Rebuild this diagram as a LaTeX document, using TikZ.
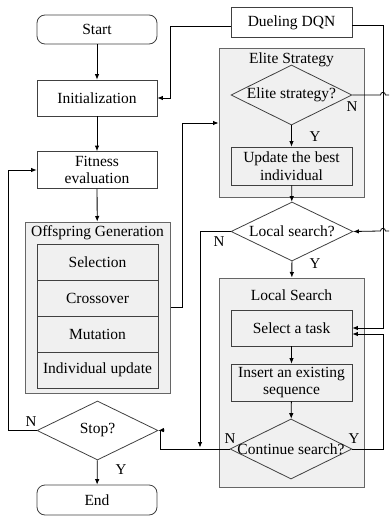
\documentclass[tikz,border=0pt]{standalone}
\usepackage{fontspec}
\setmainfont{Liberation Serif}
\usetikzlibrary{shapes.geometric,arrows.meta,calc}
\begin{document}
\begin{tikzpicture}[x=1pt,y=-1pt,
  every node/.style={font=\fontsize{15.5}{17.5}\selectfont, inner sep=0pt},
  boxn/.style={draw=black!75, line width=0.8pt, rectangle, minimum width=120pt, align=center},
  termn/.style={draw=black!75, line width=0.8pt, rectangle, rounded corners=8pt, minimum width=120pt, minimum height=29pt},
  grayn/.style={boxn, fill=black!6},
  groupn/.style={draw=black!60, line width=1pt, fill=black!6, minimum width=145pt},
  decn/.style={draw=black!75, line width=0.8pt, diamond, minimum width=121pt, minimum height=60pt},
  arr/.style={draw=black, line width=0.8pt, -{Latex[length=5.5pt,width=4.5pt]}},
  ln/.style={draw=black, line width=0.8pt},
  lab/.style={font=\fontsize{15}{17}\selectfont}]
\useasboundingbox (0,0) rectangle (389,516);

% left column
\node[termn] (start) at (97,29.5) {Start};
\node[boxn, minimum height=36pt] (init) at (97,98) {Initialization};
\node[boxn, minimum height=37pt] (fit) at (97,170) {Fitness\\evaluation};
\node[groupn, minimum height=171pt] (off) at (97.5,307.5) {};
\node (offt) at (97.5,233) {Offspring Generation};
\node[grayn, minimum width=121pt, minimum height=36pt] (sel) at (97.5,262) {Selection};
\node[grayn, minimum width=121pt, minimum height=36pt] (cro) at (97.5,298) {Crossover};
\node[grayn, minimum width=121pt, minimum height=36pt] (mut) at (97.5,334) {Mutation};
\node[grayn, minimum width=121pt, minimum height=36pt] (ind) at (97.5,370) {Individual update};
\node[decn, minimum height=59pt] (stop) at (97.5,430.5) {\makebox[0pt]{Stop?}};
\node[termn, minimum height=30pt] (end) at (97,500) {End};

% right column
\node[boxn, minimum width=121pt, minimum height=30pt] (dqn) at (291.5,22.5) {Dueling DQN};
\node[groupn, minimum height=148pt] (elbox) at (291.5,123) {};
\node (elt) at (291.5,60) {Elite Strategy};
\node[decn] (eld) at (291.5,95) {\makebox[0pt]{Elite strategy?}};
\node[grayn, minimum width=121pt, minimum height=38pt] (upd) at (291.5,166) {Update the best\\individual};
\node[decn, minimum width=122pt, minimum height=59pt] (lsd) at (292,231.5) {\makebox[0pt]{Local search?}};
\node[groupn, minimum height=209pt] (lsbox) at (291.5,382.5) {};
\node (lst) at (291.5,295) {Local Search};
\node[grayn, minimum width=121pt, minimum height=36pt] (seltask) at (291.5,328) {Select a task};
\node[grayn, minimum width=121pt, minimum height=37pt] (ins) at (291.5,382.5) {Insert an existing\\sequence};
\node[decn, minimum width=122pt] (cont) at (291,449) {\makebox[0pt]{Continue search?}};

% labels
\node[lab] (ly1) at (121,470) {Y};
\node[lab] (ln1) at (31,422) {N};
\node[lab] (ly2) at (315,137) {Y};
\node[lab] (ln2) at (352,107) {N};
\node[lab] (ly3) at (315,264) {Y};
\node[lab] (ln3) at (219,242) {N};
\node[lab] (ln4) at (230,439) {N};
\node[lab] (ly4) at (354,439) {Y};

% connectors left
\draw[arr] (start) -- (init);
\draw[arr] (init) -- (fit);
\draw[arr] (fit) -- (off);
\draw[arr] (stop) -- (end);
\draw[arr] (stop.west) -- ++(-28,0) |- (fit.west);
\draw[arr] (off.east |- 0,307) -- ++(12,0) |- (elbox.west);
\draw[arr] (dqn.west |- 0,26) -| (170,98) -- (init.east);

% connectors right
\draw[arr] (eld) -- (upd);
\draw[arr] (upd) -- (lsd);
\draw[arr] (lsd) -- (lsbox);
\draw[arr] (seltask) -- (ins);
\draw[arr] (ins) -- (cont);
\draw[arr] (dqn.east |- 0,25) -| (383,328) -- (seltask.east);
\draw[arr] (cont.east) -| (383,334) -- ([yshift=-6pt]seltask.east);
\draw[ln] (eld.east) -- (380.5,95) .. controls (380.5,91.5) and (385.5,91.5) .. (385.5,95) -- (389,95);
\draw[arr] (389,231) -- (385.5,231) .. controls (385.5,227.5) and (380.5,227.5) .. (380.5,231) -- (lsd.east);
\draw[arr] (lsd.west) -| (200,447.5);
\draw[ln] (cont.west) -| (160,430);
\draw[arr] (164.5,430) -- (stop.east);
\end{tikzpicture}
\end{document}
